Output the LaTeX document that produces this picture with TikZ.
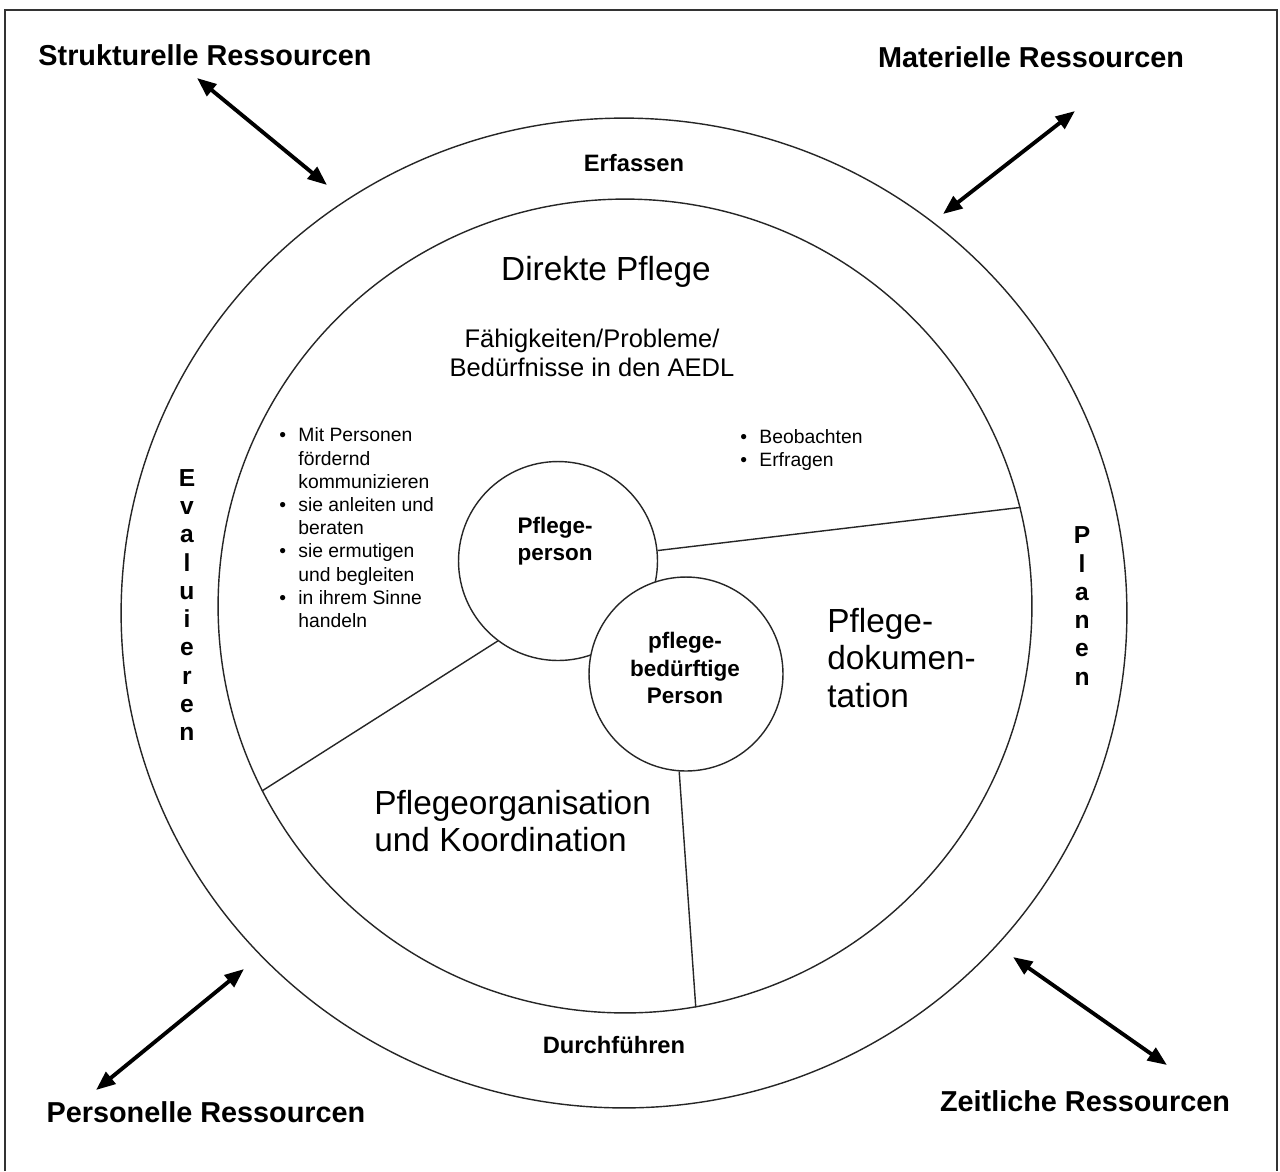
\documentclass[tikz,border=0pt]{standalone}
\usepackage{fontspec}
\setmainfont{Liberation Sans}
\usetikzlibrary{arrows.meta, shapes.geometric}

\begin{document}
\begin{tikzpicture}[x=0.02cm, y=-0.02cm,
  ring/.style={draw=black!85, line width=0.8pt, inner sep=0pt, fill=white},
  wire/.style={draw=black!85, line width=0.8pt},
  res/.style={font=\fontsize{16.4}{19}\selectfont\bfseries, inner sep=0pt},
  phase/.style={font=\fontsize{13.5}{16.1}\selectfont\bfseries, inner sep=0pt, align=center},
  big/.style={font=\fontsize{19}{21.3}\selectfont, inner sep=0pt, align=left},
  sub/.style={font=\fontsize{14.5}{16.4}\selectfont, inner sep=0pt, align=center},
  item/.style={font=\fontsize{11}{13.2}\selectfont, inner sep=0pt, anchor=west},
  who/.style={font=\fontsize{12.8}{15.5}\selectfont\bfseries, inner sep=0pt, align=center},
  resarrow/.style={{Triangle[length=11pt, width=8.5pt]}-{Triangle[length=11pt, width=8.5pt]}, line width=2.2pt}]
  \useasboundingbox (0,0) rectangle (1280,1171);
  \draw[black!80, line width=0.9pt] (5,1171) |- (1277,10) -- (1277,1171);
  \coordinate (s1) at (197,78);
  \coordinate (s2) at (327,185);
  \coordinate (m1) at (1075,111);
  \coordinate (m2) at (943,214);
  \coordinate (p1) at (244,969);
  \coordinate (p2) at (96,1090);
  \coordinate (z1) at (1013,957);
  \coordinate (z2) at (1167,1065);
  \node[ring, ellipse, minimum width=20.12cm, minimum height=19.8cm] (outer) at (624,613) {};
  \node[ring, circle, minimum size=16.28cm] (inner) at (625,606) {};
  \node[ring, circle, minimum size=3.98cm] (pp) at (558,561) {};
  \node[ring, circle, minimum size=3.88cm] (pb) at (686,674) {};
  \draw[wire] (pp.6) -- (inner.14);
  \draw[wire] (pp.233) -- (inner.207);
  \draw[wire] (pb.266) -- (inner.280);
  \node[res] (sr) at (205,55) {Strukturelle Ressourcen};
  \node[res] (mr) at (1031,57) {Materielle Ressourcen};
  \node[res] (pr) at (206,1112) {Personelle Ressourcen};
  \node[res] (zr) at (1085,1101) {Zeitliche Ressourcen};
  \draw[resarrow] (s1) -- (s2);
  \draw[resarrow] (m1) -- (m2);
  \draw[resarrow] (p1) -- (p2);
  \draw[resarrow] (z1) -- (z2);
  \node[phase] (erf) at (634,163) {Erfassen};
  \node[phase] (dur) at (614,1045) {Durchführen};
  \node[phase, font=\fontsize{14}{16.1}\selectfont\bfseries] (eva) at (187,605) {E\\v\\a\\l\\u\\i\\e\\r\\e\\n};
  \node[phase, font=\fontsize{14}{16.1}\selectfont\bfseries] (pla) at (1082,606) {P\\l\\a\\n\\e\\n};
  \node[big, align=center] (dp) at (606,272) {Direkte Pflege};
  \node[sub] (aedl) at (592,353) {Fähigkeiten/Probleme/\\Bedürfnisse in den AEDL};
  \node[item] (tun) at (279,530) {\begin{tabular}{@{}l@{\hspace{7pt}}l@{}}
    \textbullet & Mit Personen\\
     & fördernd\\
     & kommunizieren\\
    \textbullet & sie anleiten und\\
     & beraten\\
    \textbullet & sie ermutigen\\
     & und begleiten\\
    \textbullet & in ihrem Sinne\\
     & handeln
  \end{tabular}};
  \node[item] (sehen) at (740,450) {\begin{tabular}{@{}l@{\hspace{7pt}}l@{}}
    \textbullet & Beobachten\\
    \textbullet & Erfragen
  \end{tabular}};
  \node[who] (ppl) at (555,541) {Pflege-\\person};
  \node[who] (pbl) at (685,668) {pflege-\\bedürftige\\Person};
  \node[big, anchor=west] (doku) at (827,658) {Pflege-\\dokumen-\\tation};
  \node[big, anchor=west, font=\fontsize{19}{21.5}\selectfont] (org) at (374,821) {Pflegeorganisation\\und Koordination};
\end{tikzpicture}
\end{document}
